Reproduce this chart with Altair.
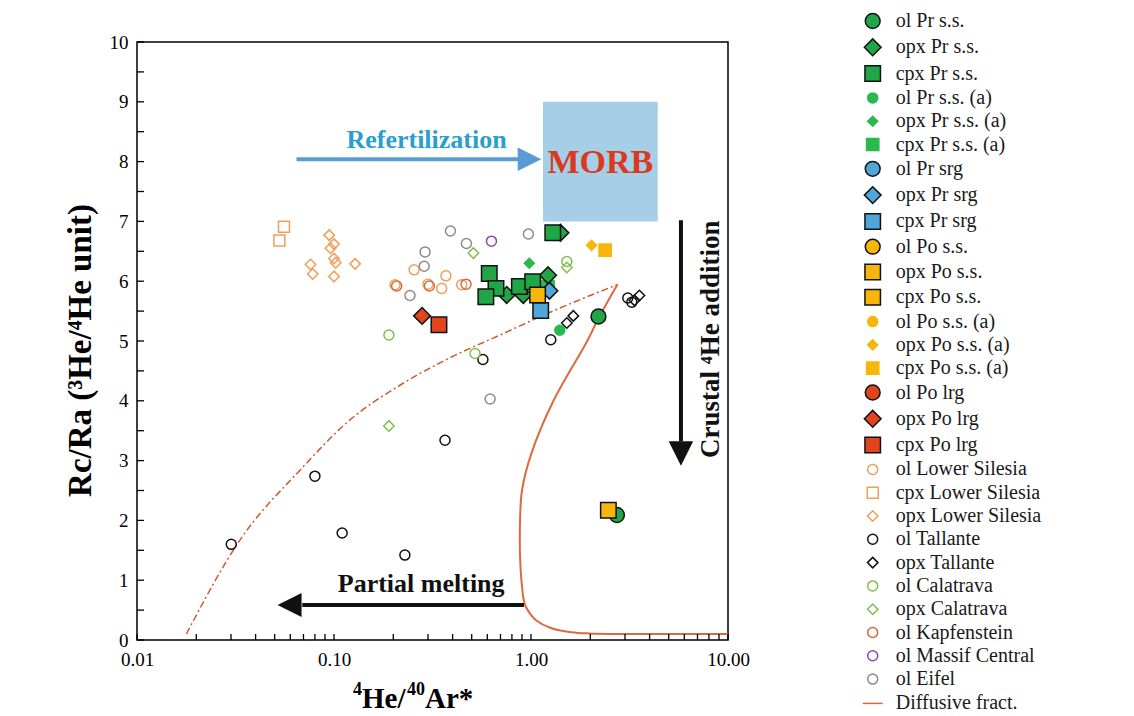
import altair as alt
import pandas as pd

FONT = "Liberation Serif"

# ---------------- series (legend order) ----------------
series_names = [
    "ol Pr s.s.", "opx Pr s.s.", "cpx Pr s.s.",
    "ol Pr s.s. (a)", "opx Pr s.s. (a)", "cpx Pr s.s. (a)",
    "ol Pr srg", "opx Pr srg", "cpx Pr srg",
    "ol Po s.s.", "opx Po s.s.", "cpx Po s.s.",
    "ol Po s.s. (a)", "opx Po s.s. (a)", "cpx Po s.s. (a)",
    "ol Po lrg", "opx Po lrg", "cpx Po lrg",
    "ol Lower Silesia", "cpx Lower Silesia", "opx Lower Silesia",
    "ol Tallante", "opx Tallante",
    "ol Calatrava", "opx Calatrava",
    "ol Kapfenstein", "ol Massif Central", "ol Eifel",
    "Diffusive fract.",
]

GREEN, GREEN_A, BLUE, YELLOW, RED = "#21a647", "#2bb84f", "#4ea6da", "#f6b60c", "#e2441c"
LS, TAL, CAL, KAP, MC, EIF = "#ef9f5c", "#111111", "#82bf4e", "#d46a3e", "#8e44b5", "#8c8c8c"
LINE = "#dc6a3f"
K = "#111111"
T = "transparent"

series_fill = [GREEN, GREEN, GREEN, GREEN_A, GREEN_A, GREEN_A, BLUE, BLUE, BLUE,
               YELLOW, YELLOW, YELLOW, YELLOW, YELLOW, YELLOW, RED, RED, RED,
               T, T, T, T, T, T, T, T, T, T, T]
series_stroke = [K, K, K, GREEN_A, GREEN_A, GREEN_A, K, K, K,
                 K, K, K, YELLOW, YELLOW, YELLOW, K, K, K,
                 LS, LS, LS, TAL, TAL, CAL, CAL, KAP, MC, EIF, LINE]
series_shape = ["circle", "diamond", "square", "circle", "diamond", "square",
                "circle", "diamond", "square", "circle", "square", "square",
                "circle", "diamond", "square", "circle", "diamond", "square",
                "circle", "square", "diamond", "circle", "diamond",
                "circle", "diamond", "circle", "circle", "circle", "stroke"]
series_size = [220, 280, 240, 100, 100, 150, 220, 280, 240, 220, 240, 240,
               100, 100, 150, 220, 280, 240, 100, 120, 110, 100, 110, 100, 110, 100, 100, 100, 400]

# ---------------- data points (x = 4He/40Ar*, y = Rc/Ra) ----------------
points = {
    "ol Lower Silesia": ([0.204, 0.255, 0.30, 0.352, 0.37, 0.445], [5.94, 6.19, 5.95, 5.88, 6.09, 5.94]),
    "cpx Lower Silesia": ([0.0557, 0.0528], [6.91, 6.68]),
    "opx Lower Silesia": ([0.0946, 0.1, 0.096, 0.1, 0.102, 0.076, 0.128, 0.078, 0.1],
                          [6.77, 6.62, 6.55, 6.38, 6.31, 6.28, 6.29, 6.12, 6.08]),
    "ol Tallante": ([0.0301, 0.080, 0.110, 0.229, 0.366, 0.57, 1.26, 3.10, 3.25],
                    [1.60, 2.74, 1.79, 1.42, 3.34, 4.69, 5.02, 5.72, 5.65]),
    "opx Tallante": ([1.52, 1.64, 3.35, 3.55], [5.30, 5.42, 5.68, 5.76]),
    "ol Calatrava": ([0.19, 0.52, 1.52], [5.10, 4.79, 6.33]),
    "opx Calatrava": ([0.19, 0.51, 1.52], [3.58, 6.47, 6.23]),
    "ol Kapfenstein": ([0.208, 0.305, 0.468], [5.92, 5.92, 5.95]),
    "ol Massif Central": ([0.63], [6.67]),
    "ol Eifel": ([0.39, 0.47, 0.29, 0.287, 0.243, 0.97, 0.62], [6.84, 6.63, 6.49, 6.25, 5.76, 6.79, 4.03]),
    "ol Pr s.s. (a)": ([1.40], [5.18]),
    "opx Pr s.s. (a)": ([0.98], [6.30]),
    "cpx Pr s.s. (a)": ([1.22], [5.91]),
    "opx Pr s.s.": ([1.41, 0.753, 0.914, 1.22], [6.81, 5.77, 5.77, 6.10]),
    "cpx Pr s.s.": ([1.29, 0.614, 0.664, 0.59, 0.873, 1.02], [6.81, 6.13, 5.88, 5.74, 5.91, 5.99]),
    "ol Pr s.s.": ([2.20, 2.73], [5.41, 2.09]),
    "opx Pr srg": ([1.24], [5.84]),
    "cpx Pr srg": ([1.12], [5.51]),
    "opx Po s.s.": ([2.47], [2.17]),
    "cpx Po s.s.": ([1.08], [5.77]),
    "opx Po s.s. (a)": ([2.03], [6.60]),
    "cpx Po s.s. (a)": ([2.38], [6.52]),
    "opx Po lrg": ([0.28], [5.42]),
    "cpx Po lrg": ([0.341], [5.27]),
}

# curves
diff_x = [2.75, 2.2, 1.93, 1.3, 1.0, 0.9, 0.88, 0.88, 0.9, 0.93, 1.0, 1.06, 1.26, 1.6, 1.97, 10.0]
diff_y = [5.95, 5.38, 5.0, 4.0, 3.1, 2.5, 2.0, 1.4, 0.9, 0.6, 0.42, 0.33, 0.2, 0.13, 0.11, 0.10]
melt_x = [0.0178, 0.0333, 0.0672, 0.1205, 0.216, 0.388, 0.697, 1.25, 2.73]
melt_y = [0.10, 1.67, 2.84, 3.68, 4.26, 4.72, 5.10, 5.48, 5.94]

# MORB field
morb_x = [1.15, 4.4]
morb_y = [7.0, 9.0]

# annotation arrows: shafts (x, x2, y, y2) and heads
shaft_x = [0.0645, 5.77, 0.069]
shaft_x2 = [0.87, 5.77, 0.921]
shaft_y = [8.04, 7.02, 0.585]
shaft_y2 = [8.04, 3.32, 0.585]
shaft_color = ["#5b9bd5", "#111111", "#111111"]
head_x = [0.983, 5.77, 0.0595]
head_y = [8.04, 3.12, 0.585]
head_shape = ["M-1,-1L1,0L-1,1Z", "M-1,-1L1,-1L0,1Z", "M1,-1L-1,0L1,1Z"]
head_size = [560, 600, 576]
head_color = ["#5b9bd5", "#111111", "#111111"]

# annotation texts
text_label = ["Refertilization", "MORB", "Partial melting"]
text_x = [0.295, 2.25, 0.277]
text_y = [8.23, 7.81, 0.81]
text_color = ["#2a9fcf", "#d93a1e", "#111111"]
text_size = [26, 34, 26]
rot_label = ["Crustal \u2074He addition"]
rot_x = [8.2]
rot_y = [5.03]

# axis ticks
x_tick_labels = [0.01, 0.1, 1, 10]
y_tick_labels = list(range(11))
y_minor = [i / 2 for i in range(21)]
x_minor = [m * d for d in (0.01, 0.1, 1) for m in range(1, 10)] + [10]

# axis titles (x title built from pieces so that superscripts match)
x_title_parts = ["4", "He/", "40", "Ar*"]
x_title_dx = [216, 225, 270, 288]          # px from plot left
x_title_base = [653, 666, 653, 666]        # px from plot top (baseline)
x_title_fs = [18, 29, 18, 29]
Y_TITLE = "Rc/Ra (\u00b3He/\u2074He unit)"

# ---------------- build ----------------
rows = []
for name, (xs, ys) in points.items():
    for xv, yv in zip(xs, ys):
        rows.append({"x": xv, "y": yv, "series": name})
pts_df = pd.DataFrame(rows)

xscale = alt.Scale(type="log", domain=[0.01, 10], nice=False)
yscale = alt.Scale(domain=[0, 10], nice=False, zero=False)

xaxis = alt.Axis(values=x_tick_labels, format=".2f", ticks=False, tickSize=0, domain=False, grid=False,
                 labelFont=FONT, labelFontSize=19, labelColor="black", labelPadding=10,
                 labelFlush=False, labelOverlap=False)
yaxis = alt.Axis(values=y_tick_labels, format="d", ticks=False, tickSize=0, domain=False, grid=False,
                 labelFont=FONT, labelFontSize=19, labelColor="black", labelPadding=9,
                 labelOverlap=False,
                 titleFont=FONT, titleFontSize=33, titleFontWeight="bold", titleColor="black",
                 titlePadding=12, titleY=308)


def XE(field):
    return alt.X(field, scale=xscale, axis=xaxis, title=None)


def YE(field):
    return alt.Y(field, scale=yscale, axis=yaxis, title=Y_TITLE)


leg = alt.Legend(title=None, orient="none", legendX=724.7, legendY=-31, padding=0,
                 labelFont=FONT, labelFontSize=20, labelColor="#1a1a1a", labelOffset=12,
                 rowPadding=3.3, symbolStrokeWidth=1.5, symbolLimit=40)

morb = alt.Chart(pd.DataFrame({"x": [morb_x[0]], "x2": [morb_x[1]], "y": [morb_y[0]], "y2": [morb_y[1]]})
                 ).mark_rect(color="#a4cfe6").encode(
    x=XE("x:Q"), x2="x2:Q", y=YE("y:Q"), y2="y2:Q")

diff_df = pd.DataFrame({"x": diff_x, "y": diff_y, "i": list(range(len(diff_x)))})
diff_line = alt.Chart(diff_df).mark_line(color=LINE, strokeWidth=2, interpolate="catmull-rom").encode(
    x=XE("x:Q"), y=YE("y:Q"), order="i:Q")

melt_df = pd.DataFrame({"x": melt_x, "y": melt_y, "i": list(range(len(melt_x)))})
melt_line = alt.Chart(melt_df).mark_line(color="#d4572e", strokeWidth=1.5, strokeDash=[7, 3, 2, 3],
                                         interpolate="monotone").encode(
    x=XE("x:Q"), y=YE("y:Q"), order="i:Q")

shaft_df = pd.DataFrame({"x": shaft_x, "x2": shaft_x2, "y": shaft_y, "y2": shaft_y2, "c": shaft_color})
shafts = alt.Chart(shaft_df).mark_rule(strokeWidth=4).encode(
    x=XE("x:Q"), x2="x2:Q", y=YE("y:Q"), y2="y2:Q",
    color=alt.Color("c:N", scale=None))

head_df = pd.DataFrame({"x": head_x, "y": head_y, "s": head_shape, "z": head_size, "c": head_color})
heads = alt.Chart(head_df).mark_point(filled=True, opacity=1, strokeWidth=0).encode(
    x=XE("x:Q"), y=YE("y:Q"),
    shape=alt.Shape("s:N", scale=None), size=alt.Size("z:Q", scale=None),
    color=alt.Color("c:N", scale=None))

text_df = pd.DataFrame({"x": text_x, "y": text_y, "t": text_label, "c": text_color, "fs": text_size})
texts = alt.Chart(text_df).mark_text(font=FONT, fontWeight="bold", baseline="alphabetic", align="center").encode(
    x=XE("x:Q"), y=YE("y:Q"),
    text="t:N", color=alt.Color("c:N", scale=None), size=alt.Size("fs:Q", scale=None))

rot_df = pd.DataFrame({"x": rot_x, "y": rot_y, "t": rot_label})
rot_text = alt.Chart(rot_df).mark_text(font=FONT, fontWeight="bold", fontSize=27, angle=270,
                                       baseline="middle", align="center", color="#111111").encode(
    x=XE("x:Q"), y=YE("y:Q"), text="t:N")

xtitle_df = pd.DataFrame({"t": x_title_parts, "px": x_title_dx, "py": x_title_base, "fs": x_title_fs})
xtitle = alt.Chart(xtitle_df).mark_text(font=FONT, fontWeight="bold", align="left", baseline="alphabetic",
                                        color="black").encode(
    x=alt.X("px:Q", scale=None), y=alt.Y("py:Q", scale=None), text="t:N",
    size=alt.Size("fs:Q", scale=None))

ytick_df = pd.DataFrame({"y": y_minor})
yticks = alt.Chart(ytick_df).mark_rule(color="black", strokeWidth=1.3).encode(
    y=YE("y:Q"), x=alt.value(0), x2=alt.value(7))
xtick_df = pd.DataFrame({"x": x_minor})
xticks = alt.Chart(xtick_df).mark_rule(color="black", strokeWidth=1.3).encode(
    x=XE("x:Q"), y=alt.value(598), y2=alt.value(592))

pts = alt.Chart(pts_df).mark_point(opacity=1, fillOpacity=1, strokeOpacity=1, strokeWidth=1.5).encode(
    x=XE("x:Q"), y=YE("y:Q"),
    fill=alt.Fill("series:N", scale=alt.Scale(domain=series_names, range=series_fill), legend=leg),
    stroke=alt.Stroke("series:N", scale=alt.Scale(domain=series_names, range=series_stroke), legend=leg),
    shape=alt.Shape("series:N", scale=alt.Scale(domain=series_names, range=series_shape), legend=leg),
    size=alt.Size("series:N", scale=alt.Scale(type="ordinal", domain=series_names, range=series_size), legend=leg),
)

chart = alt.layer(morb, melt_line, diff_line, shafts, heads, texts, rot_text, yticks, xticks,
                  pts, xtitle).properties(
    width=591, height=598,
    autosize=alt.AutoSizeParams(type="none"),
    padding={"left": 129, "top": 34, "right": 398, "bottom": 74},
    background="white",
).configure_view(stroke="black", strokeWidth=1.5)

chart.save("out.html", embed_options={"renderer": "svg", "actions": False})
